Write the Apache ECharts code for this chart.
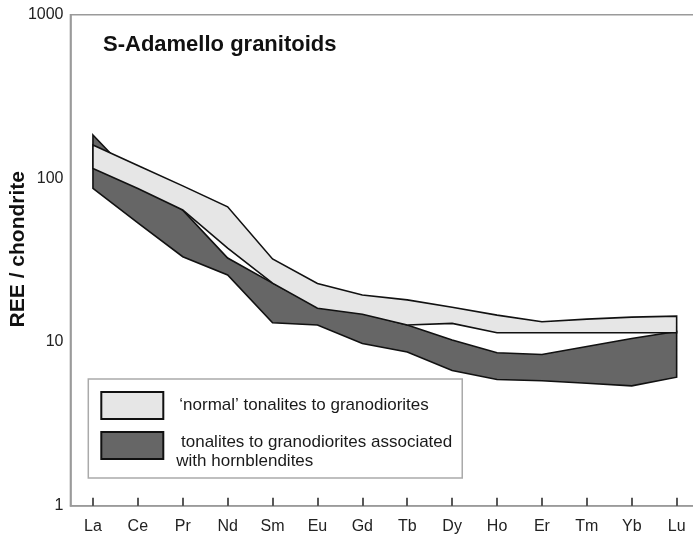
<!DOCTYPE html>
<html>
<head>
<meta charset="utf-8">
<script src="https://cdn.jsdelivr.net/npm/echarts@6/dist/echarts.min.js"></script>
<style>
html, body { margin: 0; padding: 0; background: #fff; }
#chart { width: 693px; height: 534px; }
</style>
</head>
<body>
<div id="chart"></div>
<script>
// ---- data ----
const categories = ['La', 'Ce', 'Pr', 'Nd', 'Sm', 'Eu', 'Gd', 'Tb', 'Dy', 'Ho', 'Er', 'Tm', 'Yb', 'Lu'];
// 'normal' tonalites to granodiorites (light band)
const normalMax = [160, 120, 90, 67, 32.2, 22.8, 19.4, 18.1, 16.3, 14.6, 13.3, 13.8, 14.2, 14.4];
const normalMin = [115, 86.7, 64.1, 37.5, 22.9, 16.1, 14.8, 12.7, 13.0, 11.4, 11.4, 11.4, 11.4, 11.4];
// tonalites to granodiorites associated with hornblendites (dark band)
const hornMax = [184, 95, 64, 32.6, 22.9, 16.4, 15.0, 12.7, 10.3, 8.6, 8.4, 9.4, 10.5, 11.6];
const hornMin = [87, 53.4, 33.2, 25.7, 13.1, 12.7, 9.8, 8.7, 6.7, 5.9, 5.8, 5.6, 5.4, 6.1];
const yTicks = [1, 10, 100, 1000];
const seriesNames = ['\u2018normal\u2019 tonalites to granodiorites', 'tonalites to granodiorites associated with hornblendites'];
const legendLines = [
  ['\u2018normal\u2019 tonalites to granodiorites'],
  [' tonalites to granodiorites associated', 'with hornblendites']
];
const titleText = 'S-Adamello granitoids';
const yName = 'REE / chondrite';

const FONT = '"Liberation Sans", Arial, sans-serif';
const LIGHT = '#e6e6e6';
const DARK = '#666666';

function band(name, upper, lower, color) {
  return {
    type: 'custom',
    name: name,
    coordinateSystem: 'cartesian2d',
    itemStyle: { color: color },
    data: categories.map((c, i) => [i, upper[i], lower[i]]),
    encode: { x: 0, y: [1, 2] },
    renderItem: function (params, api) {
      if (params.dataIndexInside !== 0) return null;
      const n = params.dataInsideLength;
      const pts = [];
      for (let j = 0; j < n; j++) pts.push(api.coord([api.value(0, j), api.value(1, j)]));
      for (let j = n - 1; j >= 0; j--) pts.push(api.coord([api.value(0, j), api.value(2, j)]));
      return {
        type: 'polygon',
        shape: { points: pts },
        style: { fill: color, stroke: '#111', lineWidth: 1.6 }
      };
    }
  };
}

const chart = echarts.init(document.getElementById('chart'), null, { renderer: 'canvas' });
chart.setOption({
  animation: false,
  backgroundColor: '#fff',
  title: {
    text: titleText,
    left: 103, top: 34, padding: 0,
    textStyle: { fontFamily: FONT, fontSize: 22, fontWeight: 'bold', color: '#111' }
  },
  grid: {
    left: 70.5, top: 14.7, width: 628.6, height: 491,
    show: true, borderColor: '#9a9a9a', borderWidth: 1.6,
    containLabel: false, outerBoundsMode: 'none'
  },
  xAxis: {
    type: 'category',
    data: categories,
    boundaryGap: true,
    axisLine: { show: true, lineStyle: { color: '#9a9a9a', width: 1.6 } },
    axisTick: { show: true, inside: true, alignWithLabel: true, length: 8, lineStyle: { color: '#222', width: 1.5 } },
    axisLabel: { fontFamily: FONT, fontSize: 16, color: '#222', margin: 13, interval: 0 },
    splitLine: { show: false }
  },
  yAxis: {
    type: 'log',
    logBase: 10,
    min: yTicks[0], max: yTicks[yTicks.length - 1],
    axisLine: { show: true, lineStyle: { color: '#9a9a9a', width: 1.6 } },
    axisTick: { show: false },
    splitLine: { show: false },
    axisLabel: { fontFamily: FONT, fontSize: 16, color: '#222', margin: 7, formatter: v => String(v) },
    name: yName,
    nameLocation: 'middle',
    nameGap: 42,
    nameRotate: 90,
    nameMoveOverlap: false,
    nameTextStyle: { fontFamily: FONT, fontSize: 21, fontWeight: 'bold', color: '#111', padding: [0, 0, 0, 22] }
  },
  legend: {
    orient: 'vertical',
    left: 88.3, top: 379,
    padding: [12, 10, 8, 12],
    itemWidth: 62, itemHeight: 27, itemGap: 1.4,
    borderColor: '#aaaaaa', borderWidth: 1.5,
    backgroundColor: 'rgba(0,0,0,0)',
    selectedMode: false,
    textStyle: {
      fontFamily: FONT, fontSize: 17, color: '#1a1a1a',
      rich: {
        a: { fontFamily: FONT, fontSize: 17, lineHeight: 19, color: '#1a1a1a' },
        s: { fontFamily: FONT, fontSize: 10, lineHeight: 13 }
      }
    },
    formatter: function (name) {
      const lines = legendLines[seriesNames.indexOf(name)];
      if (lines.length === 1) return '{a|' + lines[0] + '}';
      return '{s| }\n' + lines.map(l => '{a|' + l + '}').join('\n');
    },
    data: [
      { name: seriesNames[0], icon: 'rect', itemStyle: { color: LIGHT, borderColor: '#111', borderWidth: 2 },
        textStyle: { padding: [0, 0, 0, 11] } },
      { name: seriesNames[1], icon: 'rect', itemStyle: { color: DARK, borderColor: '#111', borderWidth: 2 },
        textStyle: { padding: [0, 0, 0, 8] } }
    ]
  },
  series: [
    band(seriesNames[1], hornMax, hornMin, DARK),
    band(seriesNames[0], normalMax, normalMin, LIGHT)
  ]
});
</script>
</body>
</html>
